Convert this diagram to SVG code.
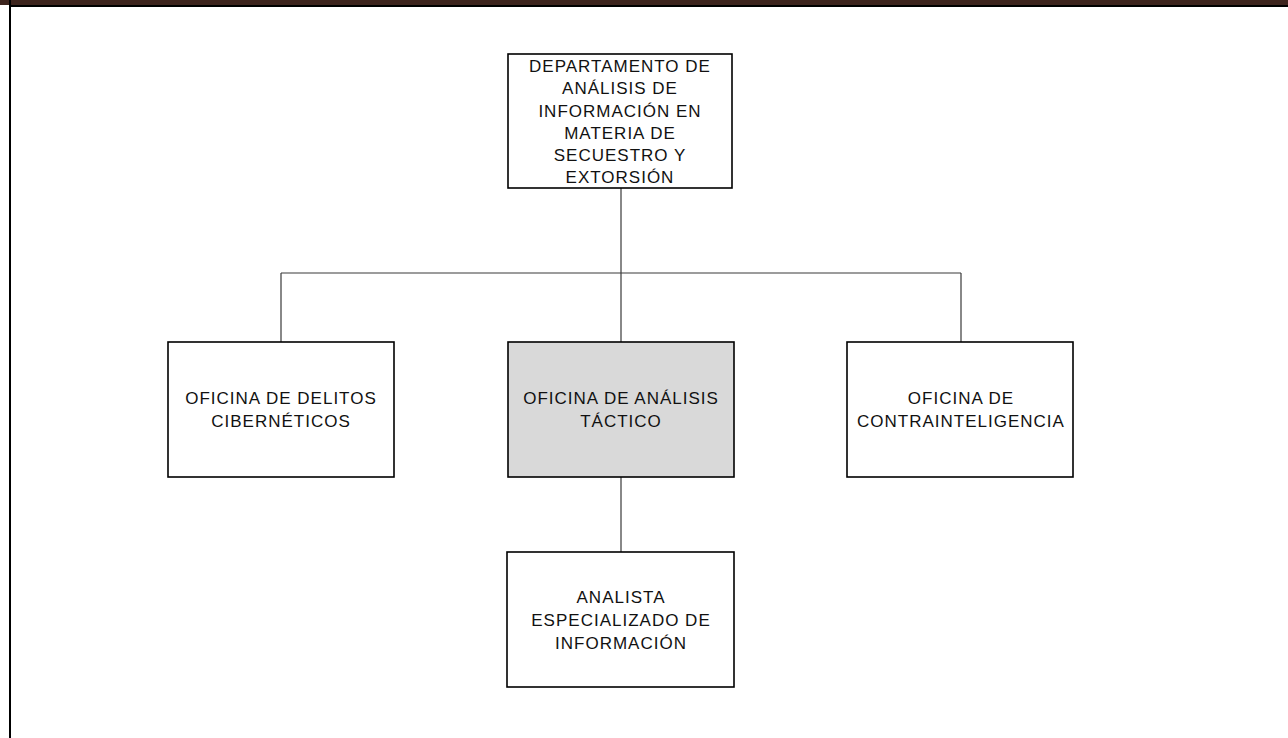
<svg xmlns="http://www.w3.org/2000/svg" width="1288" height="738" viewBox="0 0 1288 738">
<style>
.box{fill:#ffffff;stroke:#000000;stroke-width:1.6}
.hl{fill:#d9d9d9}
.t{font-family:"Liberation Sans",Arial,sans-serif;font-size:17px;letter-spacing:1px;fill:#111111;text-anchor:middle}
.c{stroke:#3a3a3a;stroke-width:1.2;fill:none}
</style>
<rect x="0" y="0" width="1288" height="5" fill="#3d241d"/>
<rect x="10" y="5" width="1278" height="2" fill="#000000"/>
<rect x="9" y="0" width="2" height="738" fill="#000000"/>
<g id="connectors">
<path class="c" d="M621 188V273M281 273H961M281 273V342M621 273V342M961 273V342M621 477V552"/>
</g>
<g id="n-dept">
<rect class="box" x="508" y="54" width="224" height="134"/>
<text class="t" x="620" y="72">DEPARTAMENTO DE</text>
<text class="t" x="620" y="94">ANÁLISIS DE</text>
<text class="t" x="620" y="117">INFORMACIÓN EN</text>
<text class="t" x="620" y="139">MATERIA DE</text>
<text class="t" x="620" y="161">SECUESTRO Y</text>
<text class="t" x="620" y="183">EXTORSIÓN</text>
</g>
<g id="n-delitos">
<rect class="box" x="168" y="342" width="226" height="135"/>
<text class="t" x="281" y="404">OFICINA DE DELITOS</text>
<text class="t" x="281" y="427">CIBERNÉTICOS</text>
</g>
<g id="n-tactico">
<rect class="box hl" x="508" y="342" width="226" height="135"/>
<text class="t" x="621" y="404">OFICINA DE ANÁLISIS</text>
<text class="t" x="621" y="427">TÁCTICO</text>
</g>
<g id="n-contra">
<rect class="box" x="847" y="342" width="226" height="135"/>
<text class="t" x="961" y="404">OFICINA  DE</text>
<text class="t" x="961" y="427">CONTRAINTELIGENCIA</text>
</g>
<g id="n-analista">
<rect class="box" x="507" y="552" width="227" height="135"/>
<text class="t" x="621" y="603">ANALISTA</text>
<text class="t" x="621" y="626">ESPECIALIZADO DE</text>
<text class="t" x="621" y="649">INFORMACIÓN</text>
</g>
</svg>
